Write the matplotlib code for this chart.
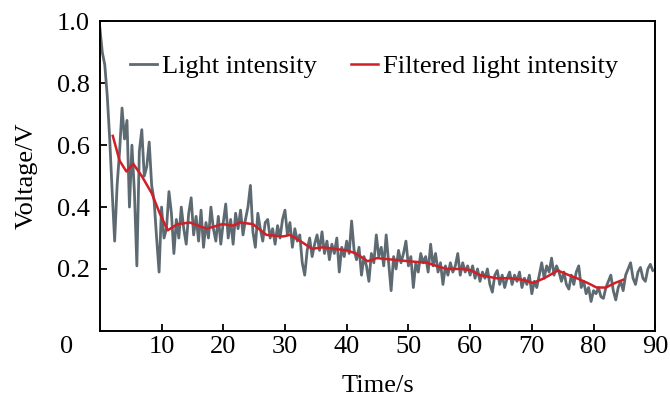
import numpy as np
import matplotlib
matplotlib.use('Agg')
import matplotlib.pyplot as plt

plt.rcParams['font.family'] = ['Liberation Serif', 'DejaVu Serif']

# raw light intensity, sampled every 0.4 s from 0 to 89.6 s
raw_v = [
    0.98, 0.90, 0.86, 0.76, 0.62, 0.45, 0.29, 0.47, 0.58, 0.72,
    0.62, 0.68, 0.40, 0.60, 0.45, 0.21, 0.58, 0.65, 0.50, 0.53,
    0.61, 0.47, 0.42, 0.30, 0.19,
    0.40, 0.30, 0.33, 0.45, 0.38, 0.25, 0.36, 0.30, 0.40, 0.33,
    0.28, 0.38, 0.43, 0.31, 0.37, 0.29, 0.39, 0.27, 0.35, 0.30,
    0.40, 0.33, 0.29, 0.37, 0.28,
    0.35, 0.41, 0.30, 0.36, 0.28, 0.38, 0.33, 0.39, 0.31, 0.36,
    0.40, 0.47, 0.32, 0.27, 0.38, 0.33, 0.29, 0.35, 0.36, 0.30,
    0.33, 0.28, 0.34, 0.30, 0.36,
    0.39, 0.31, 0.35, 0.27, 0.33, 0.29, 0.31, 0.22, 0.18, 0.26,
    0.30, 0.24, 0.28, 0.31, 0.26, 0.32, 0.25, 0.29, 0.23, 0.28,
    0.25, 0.30, 0.19, 0.27, 0.24,
    0.29, 0.25, 0.355, 0.26, 0.23, 0.27, 0.18, 0.24, 0.21, 0.16,
    0.25, 0.22, 0.31, 0.24, 0.27, 0.21, 0.31, 0.22, 0.13, 0.24,
    0.20, 0.26, 0.22, 0.25, 0.29,
    0.21, 0.24, 0.14, 0.22, 0.19, 0.25, 0.22, 0.24, 0.19, 0.28,
    0.21, 0.25, 0.19, 0.22, 0.15, 0.21, 0.18, 0.22, 0.19, 0.21,
    0.25, 0.18, 0.22, 0.19, 0.21,
    0.18, 0.21, 0.17, 0.20, 0.16, 0.19, 0.17, 0.20, 0.15, 0.125,
    0.18, 0.195, 0.15, 0.18, 0.14, 0.17, 0.19, 0.15, 0.18, 0.16,
    0.19, 0.14, 0.17, 0.15, 0.18,
    0.12, 0.16, 0.14, 0.18, 0.22, 0.17, 0.21, 0.19, 0.235, 0.18,
    0.21, 0.19, 0.16, 0.19, 0.15, 0.135, 0.18, 0.15, 0.19, 0.21,
    0.14, 0.16, 0.12, 0.14, 0.095,
    0.13, 0.12, 0.14, 0.11, 0.105, 0.14, 0.16, 0.18, 0.13, 0.10,
    0.14, 0.16, 0.13, 0.18, 0.20, 0.22, 0.17, 0.15, 0.19, 0.205,
    0.17, 0.16, 0.20, 0.215, 0.195,
]
raw_t = np.round(np.arange(len(raw_v)) * 0.4, 1)

# filtered curve
filt_t = [2.1, 3.2, 4.3, 5.4, 6.8, 8.4, 9.7, 11.0, 12.6, 14.6, 17.3, 19.9,
          21.6, 22.7, 24.8, 27.0, 29.7, 30.8, 32.5, 34.4, 36.1, 38.0, 40.0,
          41.5, 43.4, 44.9, 47.5, 50.0, 53.0, 54.5, 56.2, 58.8, 60.2, 61.6,
          64.3, 66.5, 68.5, 70.2, 72.0, 74.2, 76.0, 77.3, 79.0, 80.5, 82.0,
          83.5, 84.8]
filt_v = [0.63, 0.55, 0.515, 0.54, 0.50, 0.445, 0.38, 0.325, 0.345, 0.35,
          0.33, 0.345, 0.34, 0.35, 0.345, 0.31, 0.305, 0.31, 0.29, 0.265,
          0.27, 0.265, 0.26, 0.25, 0.225, 0.235, 0.23, 0.225, 0.22, 0.21,
          0.20, 0.20, 0.195, 0.18, 0.17, 0.17, 0.165, 0.155, 0.17, 0.195,
          0.18, 0.17, 0.155, 0.14, 0.14, 0.155, 0.165]

xticks = [10, 20, 30, 40, 50, 60, 70, 80, 90]
yticks = [0.2, 0.4, 0.6, 0.8, 1.0]

fig = plt.figure(figsize=(6.7, 4.03), dpi=100)
ax = fig.add_axes([0.149, 0.179, 0.829, 0.768])

ax.plot(raw_t, raw_v, color='#5e6a72', lw=2.0, label='Light intensity')
ax.plot(filt_t, filt_v, color='#d01f26', lw=1.8, label='Filtered light intensity')

ax.set_xlim(0, 90)
ax.set_ylim(0, 1.0)
ax.set_xticks(xticks)
ax.set_yticks(yticks)
ax.set_yticklabels([f'{v:.1f}' for v in yticks])
ax.tick_params(direction='in', length=5, width=1.3, labelsize=19)
ax.tick_params(axis='y', pad=7)
ax.tick_params(axis='x', pad=4)
for s in ax.spines.values():
    s.set_linewidth(1.4)

# shared origin label
ax.annotate('0', xy=(0, 0), xycoords='axes fraction', xytext=(-24, -4),
            textcoords='offset points', ha='center', va='top', fontsize=19)

ax.set_xlabel('Time/s', fontsize=19, labelpad=12)
ax.set_ylabel('Voltage/V', fontsize=19, labelpad=14)

ax.legend(loc='center left', bbox_to_anchor=(0.055, 0.855), frameon=False,
          ncol=2, fontsize=19, handlelength=1.0, handletextpad=0.2,
          columnspacing=1.3, borderaxespad=0, borderpad=0)

fig.savefig('out.png', dpi=100)
